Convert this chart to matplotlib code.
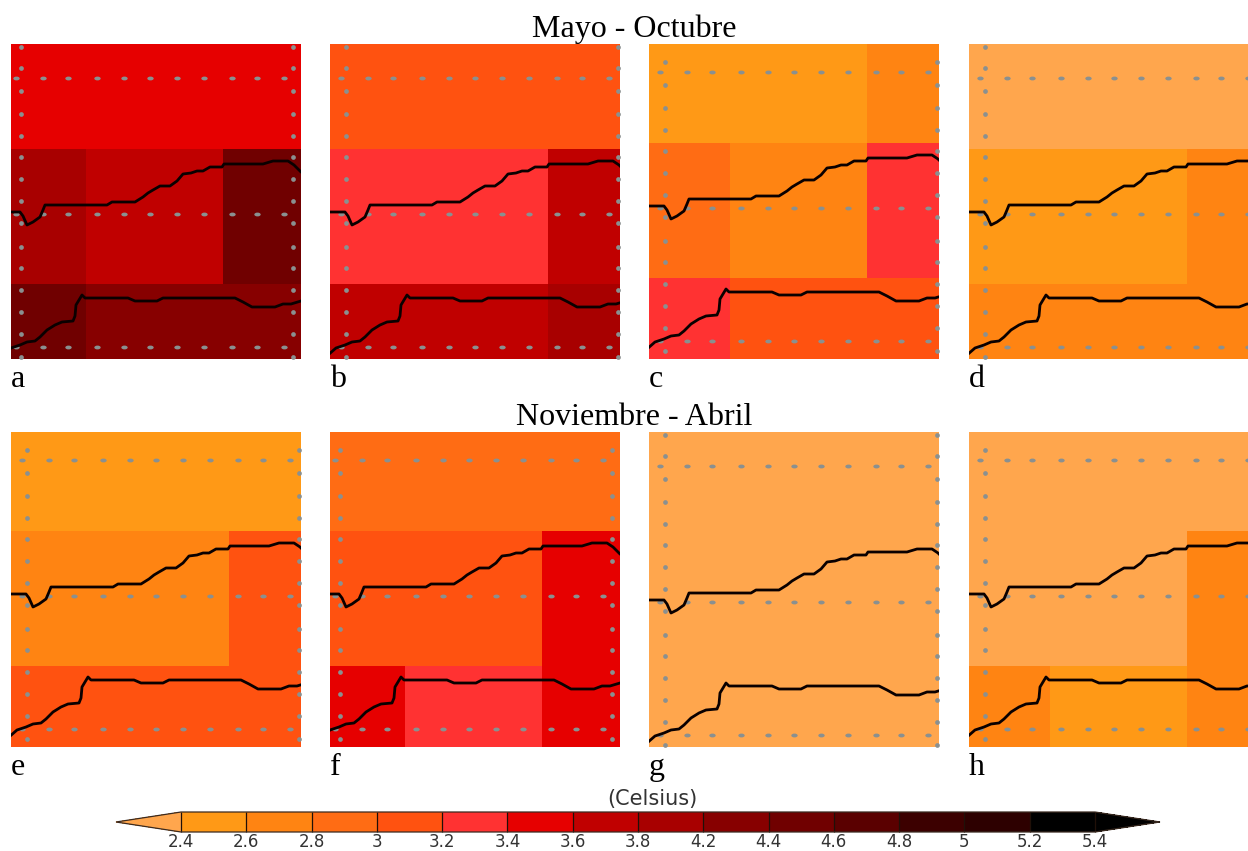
import matplotlib
matplotlib.use("Agg")
import matplotlib.pyplot as plt
import numpy as np
from matplotlib.colors import ListedColormap, BoundaryNorm
from matplotlib.cm import ScalarMappable
from matplotlib.path import Path
from matplotlib.transforms import Affine2D

W, H = 1248, 851

levels = [2.4, 2.6, 2.8, 3.0, 3.2, 3.4, 3.6, 3.8, 4.2, 4.4, 4.6, 4.8, 5.0, 5.2, 5.4]
level_labels = ["2.4", "2.6", "2.8", "3", "3.2", "3.4", "3.6", "3.8", "4.2", "4.4", "4.6", "4.8", "5", "5.2", "5.4"]
colors = ["#FF9916", "#FF8412", "#FF6C14", "#FF5210", "#FF3232", "#E60000", "#C00000",
          "#A80000", "#870000", "#700000", "#5A0000", "#3C0000", "#2D0000", "#000000"]
under_color = "#FFA64D"
over_color = "#000000"

# Map cell edges (common map frame)
x_edges = [-20, 75, 212, 320]
y_edges = [-20, 105, 240, 340]

panel_a = [[3.5, 3.5, 3.5], [4.0, 3.7, 4.5], [4.5, 4.3, 4.3]]
panel_b = [[3.1, 3.1, 3.1], [3.3, 3.3, 3.7], [3.7, 3.7, 4.0]]
panel_c = [[2.5, 2.5, 2.7], [2.9, 2.7, 3.3], [3.3, 3.1, 3.1]]
panel_d = [[2.3, 2.3, 2.3], [2.5, 2.5, 2.7], [2.7, 2.7, 2.7]]
panel_e = [[2.5, 2.5, 2.5], [2.7, 2.7, 3.1], [3.1, 3.1, 3.1]]
panel_f = [[2.9, 2.9, 2.9], [3.1, 3.1, 3.5], [3.5, 3.3, 3.5]]
panel_g = [[2.3, 2.3, 2.3], [2.3, 2.3, 2.3], [2.3, 2.3, 2.3]]
panel_h = [[2.3, 2.3, 2.3], [2.3, 2.3, 2.7], [2.7, 2.5, 2.7]]

panel_names = ["a", "b", "c", "d", "e", "f", "g", "h"]
panel_values = [panel_a, panel_b, panel_c, panel_d, panel_e, panel_f, panel_g, panel_h]
# map-frame offset of each panel
shift_x = [0, 6, 6, 6, 6, 0, 6, 6]
shift_y = [0, 0, -6, 0, -6, -6, 0, -6]

coast1_x = [-8, 0, 9, 12, 16, 22, 29, 32, 34, 96, 101, 124, 132, 137, 142, 149, 159, 166, 172,
            180, 186, 192, 199, 211, 213, 252, 262, 277, 283, 290, 298]
coast1_y = [168, 168, 168, 172, 181, 178, 173, 166, 161, 161, 158, 158, 153, 149, 146, 142, 142,
            137, 130, 129, 127, 127, 123, 123, 120, 120, 117, 117, 121, 128, 133]
coast2_x = [-8, 0, 9, 16, 24, 29, 36, 44, 51, 62, 64, 65, 71, 74, 117, 124, 146, 152, 224, 232, 241,
            264, 272, 280, 290, 298]
coast2_y = [311, 304, 301, 298, 297, 293, 286, 281, 278, 277, 272, 261, 251, 254, 254, 257, 257, 254,
            254, 258, 263, 263, 260, 260, 257, 254]

grid_row_y = [34, 170, 303]
grid_row_x = [5, 32, 57, 86, 113, 139, 166, 193, 221, 246, 273]
grid_col_x = [10, 282]
grid_col_y = [3, 24, 47, 70, 92, 113, 135, 157, 179, 203, 224, 246, 268, 290, 313]

panel_left = [11, 330, 649, 969]
panel_top = [44, 432]
panel_w = [290, 290, 290, 279]
panel_h_px = 315


def px_axes(x0, y0, w, h):
    return fig.add_axes([x0 / W, 1 - (y0 + h) / H, w / W, h / H])


fig = plt.figure(figsize=(W / 100, H / 100), dpi=100, facecolor="white")
cmap = ListedColormap(colors)
cmap.set_under(under_color)
cmap.set_over(over_color)
norm = BoundaryNorm(levels, cmap.N)

ell = Path.unit_circle().transformed(Affine2D().scale(1.0, 0.6))
DOT = "#8A9090"

for i, (name, vals) in enumerate(zip(panel_names, panel_values)):
    r, c = divmod(i, 4)
    ax = px_axes(panel_left[c], panel_top[r], panel_w[c], panel_h_px)
    ax.pcolormesh(x_edges, y_edges, np.array(vals), cmap=cmap, norm=norm, shading="flat",
                  linewidth=0, antialiased=False)
    for yy in grid_row_y:
        ax.plot(grid_row_x, [yy] * len(grid_row_x), ls="none", marker=ell, ms=4.6,
                mfc=DOT, mec="none", zorder=3)
    for xx in grid_col_x:
        ax.plot([xx] * len(grid_col_y), grid_col_y, ls="none", marker="o", ms=3.4,
                mfc=DOT, mec="none", zorder=3)
    ax.plot(coast1_x, coast1_y, color="#0A0000", lw=2.0, zorder=4, solid_joinstyle="round")
    ax.plot(coast2_x, coast2_y, color="#0A0000", lw=2.0, zorder=4, solid_joinstyle="round")
    ax.set_xlim(-shift_x[i], -shift_x[i] + panel_w[c])
    ax.set_ylim(panel_h_px - shift_y[i], -shift_y[i])
    ax.axis("off")
    fig.text(panel_left[c] / W, 1 - (panel_top[r] + 343) / H, name,
             family="Liberation Serif", fontsize=23, ha="left", va="baseline", color="black")

fig.text(634.5 / W, 1 - 37 / H, "Mayo - Octubre", family="Liberation Serif", fontsize=23,
         ha="center", va="baseline", color="black")
fig.text(634.5 / W, 1 - 425 / H, "Noviembre - Abril", family="Liberation Serif", fontsize=23,
         ha="center", va="baseline", color="black")

# Colour bar: the axes spans tip to tip, extensions included
cax = px_axes(116, 812, 1044, 20)
sm = ScalarMappable(norm=norm, cmap=cmap)
cb = fig.colorbar(sm, cax=cax, orientation="horizontal", extend="both", extendfrac=65 / 914,
                  spacing="uniform", ticks=levels, drawedges=True)
cb.ax.set_xticklabels(level_labels)
cb.ax.tick_params(length=0, labelsize=12, pad=0.5, labelcolor="#333333")
for lab in cb.ax.get_xticklabels():
    lab.set_family("DejaVu Sans")
cb.outline.set_linewidth(0.9)
cb.outline.set_edgecolor("#3A2A20")
cb.dividers.set_color("#201008")
cb.dividers.set_linewidth(0.9)
fig.text(652 / W, 1 - 805 / H, "(Celsius)", family="DejaVu Sans", fontsize=15,
         ha="center", va="baseline", color="#333333")

fig.savefig("out.png", dpi=100, facecolor="white")
